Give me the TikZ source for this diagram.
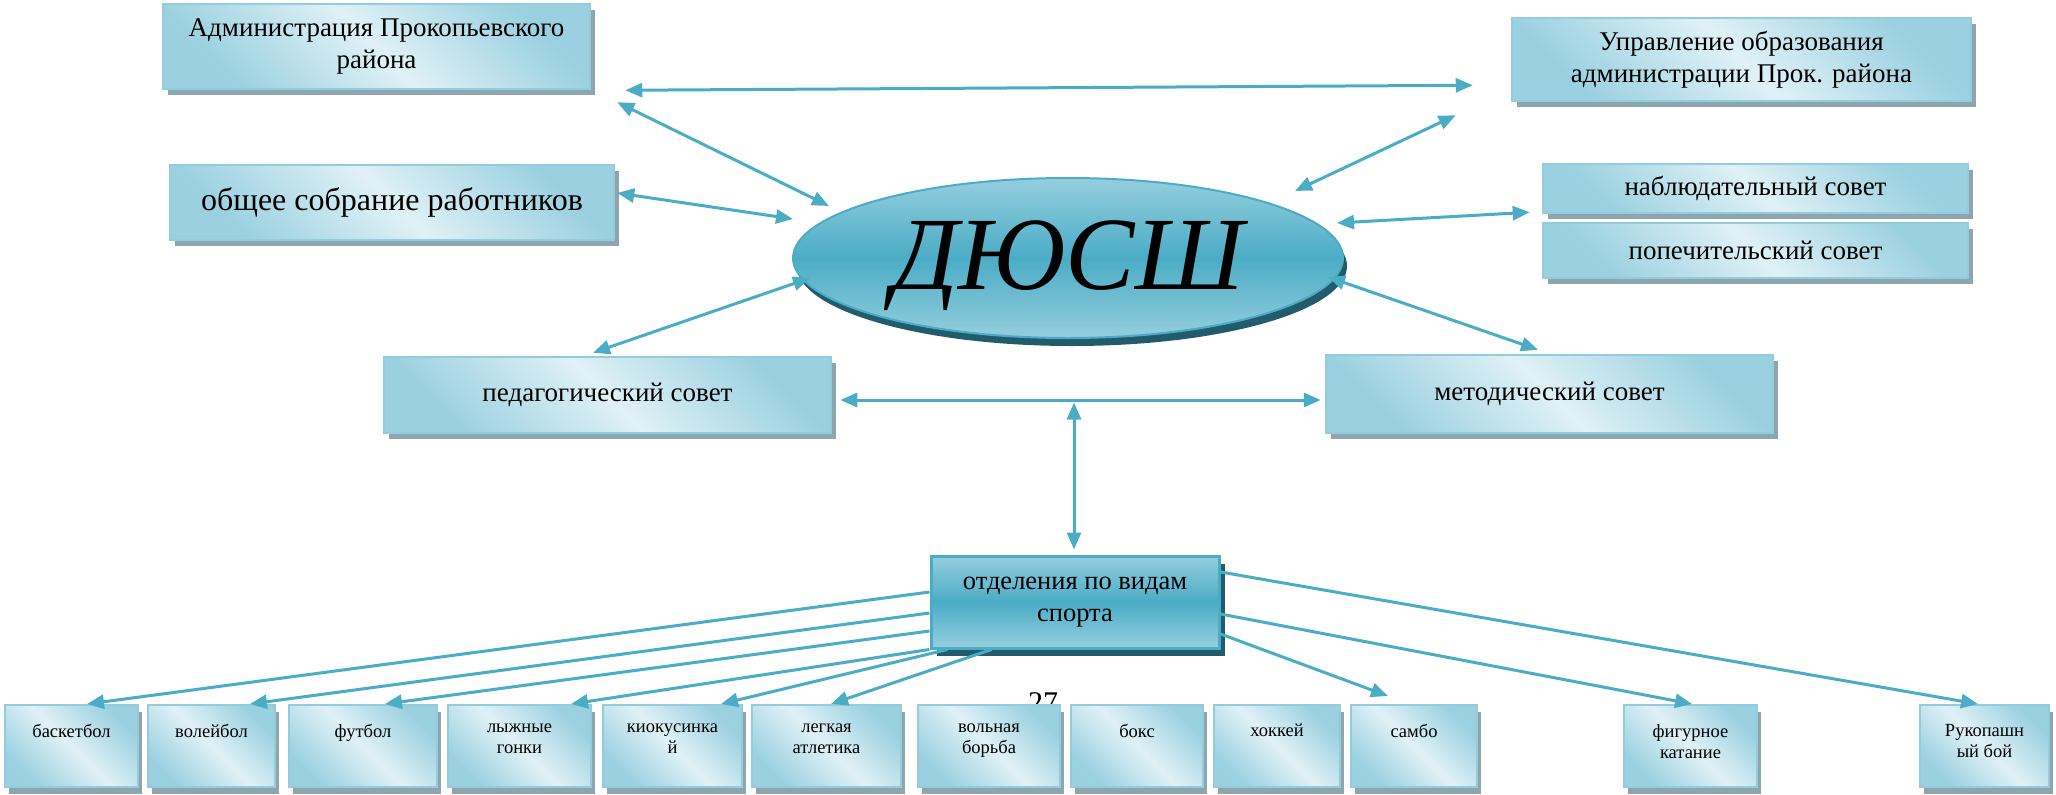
\documentclass[tikz,border=0pt]{standalone}
\usepackage{fontspec}
\setmainfont{Liberation Serif}
\usetikzlibrary{arrows.meta,shapes.geometric,shadows,calc}
\definecolor{arrowc}{HTML}{4BACC6}
\definecolor{boxdark}{HTML}{9AD0E0}
\definecolor{boxlight}{HTML}{E0F1F6}
\definecolor{boxborder}{HTML}{93CDDD}
\definecolor{boxshadow}{HTML}{8DA5AF}
\definecolor{ellmid}{HTML}{4BACC6}
\definecolor{elllight}{HTML}{95CEDE}
\definecolor{ellshadow}{HTML}{225C6C}
\begin{document}
\begin{tikzpicture}[x=1pt,y=-1pt,
  >={Triangle[length=17pt,width=14pt]},
  lbox/.style={draw=boxborder, line width=2.5pt,
    top color=boxdark, bottom color=boxdark, middle color=boxlight, shading angle=-45,
    drop shadow={shadow xshift=5pt, shadow yshift=-6pt, fill=boxshadow, opacity=1},
    inner sep=0pt, align=center, font=\fontsize{27}{32}\selectfont},
  sbox/.style={draw=boxborder, line width=2pt,
    top color=boxdark, bottom color=boxdark, middle color=boxlight, shading angle=-45,
    drop shadow={shadow xshift=4pt, shadow yshift=-7pt, fill=boxshadow, opacity=1},
    inner sep=0pt, minimum height=82},
  stext/.style={anchor=north, inner sep=0pt, align=center, font=\fontsize{18.5}{21}\selectfont},
  dbox/.style={draw=arrowc, line width=3pt,
    top color=elllight, bottom color=elllight, middle color=ellmid,
    drop shadow={shadow xshift=6pt, shadow yshift=-8pt, fill=ellshadow, opacity=1},
    inner sep=0pt, align=center, font=\fontsize{26.5}{32}\selectfont},
  ell/.style={ellipse, draw=arrowc, line width=2pt,
    top color=elllight, bottom color=elllight, middle color=ellmid,
    drop shadow={shadow xshift=4pt, shadow yshift=-8pt, fill=ellshadow, opacity=1},
    inner sep=0pt},
  conn/.style={draw=arrowc, line width=3pt}
]
\useasboundingbox (0,0) rectangle (2056,795);

% top boxes
\node[lbox, minimum width=427, minimum height=85] (admin) at (376.5,46.5) {Администрация Прокопьевского\\района};
\node[lbox, minimum width=459, minimum height=83] (uprav) at (1741.5,59.5) {Управление образования\\администрации Прок. района};
\node[lbox, minimum width=444, minimum height=75, font=\fontsize{32}{36}\selectfont] (obshee) at (392,202.5) {общее собрание работников};
\node[lbox, minimum width=425, minimum height=49] (nabl) at (1755.5,188.5) {наблюдательный совет};
\node[lbox, minimum width=425, minimum height=55] (popech) at (1755.5,250.5) {попечительский совет};
\node[lbox, minimum width=447, minimum height=76] (pedag) at (607.5,395) {педагогический совет};
\node[lbox, minimum width=447, minimum height=78] (metod) at (1549.5,394) {методический совет};

% centre
\node[ell, minimum width=550, minimum height=160] (dyussh) at (1068,258) {\raisebox{0pt}[80pt][18pt]{\fontsize{104}{110}\selectfont\itshape ДЮСШ}};

% departments
\node[dbox, minimum width=288, minimum height=92] (otdel) at (1075,602) {отделения по видам\\спорта};

% page number (partly hidden)
\node[anchor=base, inner sep=0pt, font=\fontsize{30}{34}\selectfont] (pagenum) at (1043,712) {27};

% bottom boxes
\node[sbox, minimum width=133] (basket) at (71.5,746) {};
\node[sbox, minimum width=127] (voley) at (211.5,746) {};
\node[sbox, minimum width=148] (futbol) at (363,746) {};
\node[sbox, minimum width=143] (lyzhn) at (519.5,746) {};
\node[sbox, minimum width=139] (kiok) at (672.5,746) {};
\node[sbox, minimum width=149] (legk) at (826.5,746) {};
\node[sbox, minimum width=142] (voln) at (989,746) {};
\node[sbox, minimum width=132] (boks) at (1137,746) {};
\node[sbox, minimum width=126] (hokk) at (1277,746) {};
\node[sbox, minimum width=126] (sambo) at (1414,746) {};
\node[sbox, minimum width=133] (figur) at (1690.5,746) {};
\node[sbox, minimum width=129] (ruko) at (1984.5,746) {};

\node[stext] (tbasket) at ([yshift=-20pt]basket.north) {баскетбол};
\node[stext] (tvoley) at ([yshift=-20pt]voley.north) {волейбол};
\node[stext] (tfutbol) at ([yshift=-20pt]futbol.north) {футбол};
\node[stext] (tlyzhn) at ([yshift=-20pt]lyzhn.north) {лыжные\\гонки};
\node[stext] (tkiok) at ([yshift=-20pt]kiok.north) {киокусинка\\й};
\node[stext] (tlegk) at ([yshift=-20pt]legk.north) {легкая\\атлетика};
\node[stext] (tvoln) at ([yshift=-20pt]voln.north) {вольная\\борьба};
\node[stext] (tboks) at ([yshift=-20pt]boks.north) {бокс};
\node[stext] (thokk) at ([yshift=-20pt]hokk.north) {хоккей};
\node[stext] (tsambo) at ([yshift=-20pt]sambo.north) {самбо};
\node[stext] (tfigur) at ([yshift=-20pt]figur.north) {фигурное\\катание};
\node[stext] (truko) at ([yshift=-20pt]ruko.north) {Рукопашн\\ый бой};

% connectors, top part
\draw[conn,<->] ($(admin.south east)+(34,0)$) -- ($(uprav.south west)+(-38,-17)$);
\draw[conn,<->] ($(admin.south east)+(26,12)$) -- ($(dyussh.center)+(-239,-52)$);
\draw[conn,<->] ($(uprav.south west)+(-55,13)$) -- ($(dyussh.center)+(227,-67)$);
\draw[conn,<->] ($(obshee.east)+(2,-9.5)$) -- ($(dyussh.center)+(-275,-39)$);
\draw[conn,<->] ($(nabl.south west)+(-12,-2)$) -- ($(dyussh.center)+(269,-35)$);
\draw[conn,<->] ($(pedag.north)+(-14.5,-3)$) -- ($(dyussh.center)+(-258,20)$);
\draw[conn,<->] ($(metod.north)+(-11.5,-4)$) -- ($(dyussh.center)+(260,19)$);
\draw[conn,<->] ($(pedag.east)+(8,5)$) -- ($(metod.west)+(-4,6)$);
\draw[conn,<->] ($(otdel.north)+(-1,-5)$) -- ($(otdel.north)+(-1,-152)$);

% connectors to sports
\draw[conn,->] ($(otdel.west)+(0,-10)$) -- ($(basket.north)+(15.5,0)$);
\draw[conn,->] ($(otdel.west)+(0,11)$) -- ($(voley.north)+(38.5,0)$);
\draw[conn,->] ($(otdel.west)+(0,29)$) -- ($(futbol.north)+(22,0)$);
\draw[conn,->] (otdel.south west) -- ($(lyzhn.north)+(51.5,0)$);
\draw[conn,->] ($(otdel.south west)+(18,0)$) -- ($(kiok.north)+(48.5,0)$);
\draw[conn,->] ($(otdel.south west)+(62,0)$) -- ($(legk.north)+(4.5,0)$);
\draw[conn,->] ($(otdel.east)+(0,32)$) -- ($(sambo.north)+(-26,-8)$);
\draw[conn,->] ($(otdel.east)+(0,12)$) -- ($(figur.north)+(1.5,0)$);
\draw[conn,->] ($(otdel.east)+(0,-30)$) -- ($(ruko.north)+(-6.5,0)$);
\end{tikzpicture}
\end{document}
